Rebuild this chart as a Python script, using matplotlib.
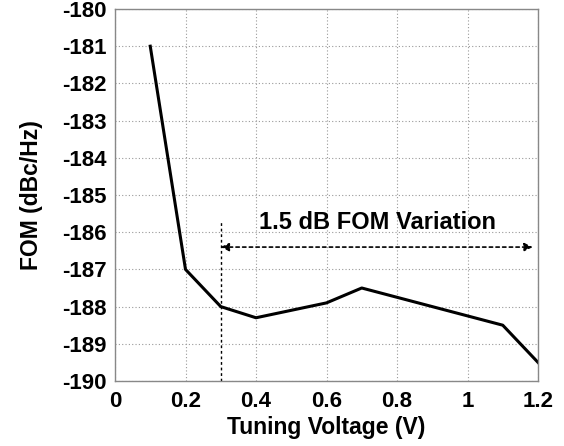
import numpy as np
import matplotlib.pyplot as plt

plt.rcParams['font.family'] = ['Liberation Sans', 'DejaVu Sans']
plt.rcParams['font.weight'] = 'bold'
plt.rcParams['axes.unicode_minus'] = False

# data
voltage = [0.1, 0.2, 0.3, 0.4, 0.6, 0.7, 1.1, 1.2]
fom = [-181.0, -187.0, -188.0, -188.3, -187.9, -187.5, -188.5, -189.5]

xticks = [0, 0.2, 0.4, 0.6, 0.8, 1, 1.2]
xticklabels = ['0', '0.2', '0.4', '0.6', '0.8', '1', '1.2']
yticks = list(range(-190, -179))

fig = plt.figure(figsize=(5.64, 4.46), dpi=100)
ax = fig.add_axes([115 / 564, 1 - 381 / 446, 423 / 564, 372 / 446])

ax.plot(voltage, fom, '-k', lw=2.2)

# marker for the start of the variation span
ax.plot([0.3, 0.3], [-190, -185.7], color='k', ls=(0, (2, 2)), lw=1)
ax.annotate('', xy=(1.185, -186.4), xytext=(0.3, -186.4),
            arrowprops=dict(arrowstyle='<|-|>', ls=(0, (2, 2)), lw=1.2,
                            color='k', mutation_scale=12, shrinkA=0, shrinkB=0))
ax.text(0.745, -185.75, '1.5 dB FOM Variation', ha='center', va='center',
        fontsize=17, fontweight='bold')

ax.set_xlim(0, 1.2)
ax.set_ylim(-190, -180)
ax.set_xticks(xticks)
ax.set_xticklabels(xticklabels)
ax.set_yticks(yticks)
ax.tick_params(labelsize=16, length=0)
ax.tick_params(axis='x', pad=7)
ax.tick_params(axis='y', pad=6)
for lab in ax.get_xticklabels() + ax.get_yticklabels():
    lab.set_fontweight('bold')
ax.grid(True, color='#999999', ls=(0, (1, 2)), lw=0.8)
for s in ax.spines.values():
    s.set_color('#888888')
    s.set_linewidth(1)

ax.set_xlabel('Tuning Voltage (V)', fontsize=16.5, fontweight='bold', labelpad=3)
ax.set_ylabel('FOM (dBc/Hz)', fontsize=16.5, fontweight='bold', labelpad=14)

fig.savefig('out.png', dpi=100)
